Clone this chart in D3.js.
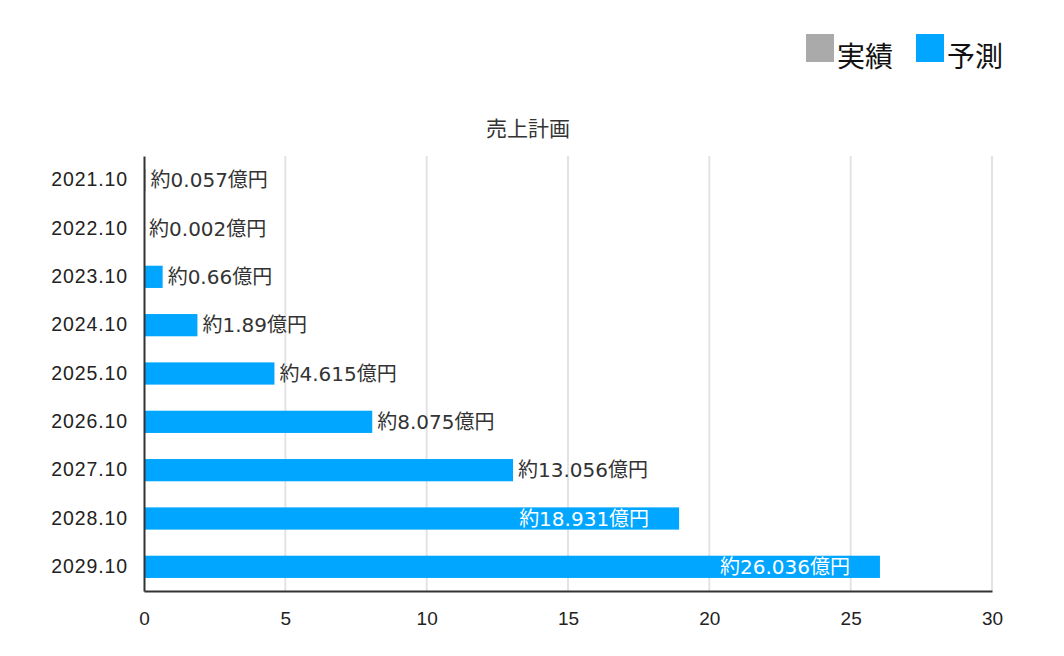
<!DOCTYPE html>
<html>
<head>
<meta charset="utf-8">
<script src="https://cdn.jsdelivr.net/npm/d3@7"></script>
<style>
  body { margin: 0; background: #fff; }
  text { font-family: "Noto Sans CJK JP", "Noto Sans", sans-serif; }
  .tick text { font-family: "Liberation Sans", Arial, sans-serif; }
  .val { font-family: "DejaVu Sans", "Noto Sans CJK JP", sans-serif; }
</style>
</head>
<body>
<svg id="chart" width="1064" height="656"></svg>
<script>
// data
var years = ["2021.10", "2022.10", "2023.10", "2024.10", "2025.10", "2026.10", "2027.10", "2028.10", "2029.10"];
var sales = [0.057, 0.002, 0.66, 1.89, 4.615, 8.075, 13.056, 18.931, 26.036];
var kinds = ["実績", "予測", "予測", "予測", "予測", "予測", "予測", "予測", "予測"];
var salesLabels = ["約0.057億円", "約0.002億円", "約0.66億円", "約1.89億円", "約4.615億円", "約8.075億円", "約13.056億円", "約18.931億円", "約26.036億円"];
var legendItems = ["実績", "予測"];
var xTicks = [0, 5, 10, 15, 20, 25, 30];

var colors = { "実績": "#aaaaaa", "予測": "#00a6ff" };

var svg = d3.select("#chart");
var m = { left: 144, right: 72, top: 156, bottom: 65 },
    W = 1064, H = 656;

var x = d3.scaleLinear().domain([0, 30]).range([m.left, W - m.right]);
var y = d3.scaleBand().domain(years).range([m.top, H - m.bottom]).paddingInner(0.54).paddingOuter(0.27);

// grid
svg.append("g").selectAll("line")
  .data(xTicks.slice(1))
  .enter().append("line")
  .attr("x1", function(d) { return x(d); })
  .attr("x2", function(d) { return x(d); })
  .attr("y1", m.top)
  .attr("y2", H - m.bottom)
  .attr("stroke", "#e3e3e3")
  .attr("stroke-width", 2);

// bars
var rows = years.map(function(yr, i) {
  return { year: yr, v: sales[i], kind: kinds[i], label: salesLabels[i] };
});

svg.append("g").selectAll("rect")
  .data(rows)
  .enter().append("rect")
  .attr("x", x(0))
  .attr("y", function(d) { return y(d.year); })
  .attr("width", function(d) { return Math.max(x(d.v) - x(0), 1); })
  .attr("height", y.bandwidth())
  .attr("fill", function(d) { return colors[d.kind]; });

// value labels - big ones go inside the bar
svg.append("g").selectAll("text")
  .data(rows)
  .enter().append("text")
  .attr("class", "val")
  .attr("x", function(d) { return d.v > 15 ? x(d.v) - 30 : x(d.v) + 5; })
  .attr("y", function(d) { return y(d.year) + y.bandwidth() / 2; })
  .attr("dy", "0.36em")
  .attr("text-anchor", function(d) { return d.v > 15 ? "end" : "start"; })
  .attr("fill", function(d) { return d.v > 15 ? "#fff" : "#333"; })
  .style("font-size", "20px")
  .text(function(d) { return d.label; });

// axes
var xAxis = svg.append("g")
  .attr("transform", "translate(0," + (H - m.bottom) + ")")
  .call(d3.axisBottom(x).tickValues(xTicks).tickSize(0).tickPadding(21));
xAxis.select(".domain").attr("stroke", "#333").attr("stroke-width", 2);
xAxis.selectAll("text").style("font-size", "19px").attr("fill", "#222");

var yAxis = svg.append("g")
  .attr("transform", "translate(" + m.left + ",0)")
  .call(d3.axisLeft(y).tickSize(0).tickPadding(16));
yAxis.select(".domain").attr("stroke", "#333").attr("stroke-width", 2);
yAxis.selectAll("text").style("font-size", "19.5px").style("letter-spacing", "0.9px").attr("fill", "#222");

// title
svg.append("text")
  .attr("x", 528)
  .attr("y", 136)
  .attr("text-anchor", "middle")
  .attr("fill", "#333")
  .style("font-size", "21px")
  .text("売上計画");

// legend
var lg = svg.append("g").attr("transform", "translate(806,34)");
var item = lg.selectAll("g")
  .data(legendItems)
  .enter().append("g")
  .attr("transform", function(d, i) { return "translate(" + (i * 110) + ",0)"; });
item.append("rect")
  .attr("width", 28).attr("height", 28)
  .attr("fill", function(d) { return colors[d]; });
item.append("text")
  .attr("x", 31)
  .attr("y", 33)
  .attr("fill", "#111")
  .style("font-size", "28px")
  .text(function(d) { return d; });
</script>
</body>
</html>
